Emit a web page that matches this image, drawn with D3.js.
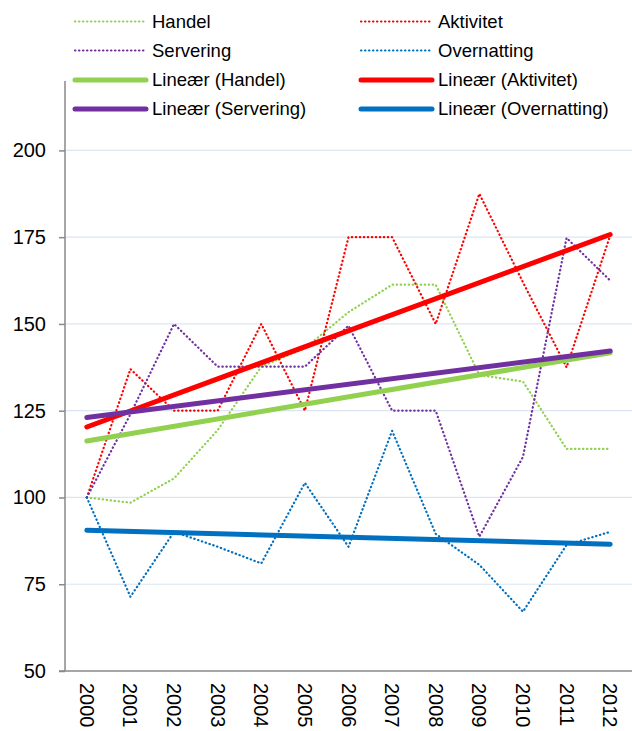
<!DOCTYPE html>
<html>
<head>
<meta charset="utf-8">
<script src="https://cdn.jsdelivr.net/npm/d3@7"></script>
<style>
  body { margin: 0; background: #fff; }
  svg { display: block; font-family: "Liberation Sans", Arial, sans-serif; }
</style>
</head>
<body>
<svg id="chart" width="632" height="731"></svg>
<script>
// Data
const years = ["2000", "2001", "2002", "2003", "2004", "2005", "2006",
               "2007", "2008", "2009", "2010", "2011", "2012"];
const handel     = [100, 98.5, 105.5, 119.4, 137.7, 143, 153.4, 161.3, 161.3, 135.3, 133.4, 114, 114];
const aktivitet  = [100, 137, 125, 125, 150, 125, 175, 175, 150, 187.5, 162, 137.5, 175.5];
const servering  = [100, 124, 150, 137.7, 137.7, 137.7, 149.5, 125, 125, 88.7, 111.7, 174.8, 162.5];
const overnatting = [100, 71.4, 90.1, 85.8, 81, 104.2, 85.8, 119.2, 89.5, 80.6, 67.1, 86.3, 90.1];
const yTicks = [50, 75, 100, 125, 150, 175, 200];

const series = [
  {name: "Handel", values: handel, color: "#92d050"},
  {name: "Aktivitet", values: aktivitet, color: "#ff0000"},
  {name: "Servering", values: servering, color: "#7030a0"},
  {name: "Overnatting", values: overnatting, color: "#0070c0"}
];

// least squares trend, like the spreadsheet's linear trendline
function trend(vals) {
  const n = vals.length;
  const mx = d3.mean(vals, (v, i) => i), my = d3.mean(vals);
  let sxy = 0, sxx = 0;
  vals.forEach((v, i) => { sxy += (i - mx) * (v - my); sxx += (i - mx) * (i - mx); });
  const b = sxy / sxx, a = my - b * mx;
  return [[0, a], [n - 1, a + b * (n - 1)]];
}

const svg = d3.select("#chart");
const margin = {top: 81, right: 0, bottom: 60, left: 65};
const width = +svg.attr("width"), height = +svg.attr("height");

const x = d3.scaleBand()
  .domain(years)
  .range([margin.left, width - margin.right]);

const y = d3.scaleLinear()
  .domain([50, 220])
  .range([height - margin.bottom, margin.top]);

const xPos = i => x(years[i]) + x.bandwidth() / 2;

// gridlines
svg.append("g")
  .selectAll("line")
  .data(yTicks.filter(t => t > 50))
  .join("line")
  .attr("x1", margin.left)
  .attr("x2", width - margin.right)
  .attr("y1", d => y(d))
  .attr("y2", d => y(d))
  .attr("stroke", "#dce6f2")
  .attr("stroke-width", 1.2);

// y axis
const yAxis = svg.append("g")
  .attr("transform", `translate(${margin.left},0)`)
  .call(d3.axisLeft(y).tickValues(yTicks).tickSize(6).tickPadding(13));
yAxis.select(".domain").attr("stroke", "#898989").attr("stroke-width", 1.5)
  .attr("d", `M0,${y(50)}V${margin.top}`);
yAxis.selectAll(".tick line").attr("stroke", "#898989").attr("stroke-width", 1.5);
yAxis.selectAll("text")
  .attr("font-family", "Liberation Sans, Arial, sans-serif")
  .attr("font-size", "20px")
  .attr("fill", "#000");

// x axis
const xAxis = svg.append("g")
  .attr("transform", `translate(0,${y(50)})`)
  .call(d3.axisBottom(x).tickSize(0).tickPadding(0));
xAxis.select(".domain").attr("stroke", "#898989").attr("stroke-width", 1.5)
  .attr("d", `M${margin.left - 6},0H${width}`);
xAxis.selectAll("text")
  .attr("font-family", "Liberation Sans, Arial, sans-serif")
  .attr("font-size", "20px")
  .attr("fill", "#000")
  .attr("transform", "translate(0,12)rotate(90)")
  .attr("dy", "0.35em")
  .attr("y", 0)
  .style("text-anchor", "start");

const line = d3.line()
  .x((d, i) => xPos(i))
  .y(d => y(d));

// dotted series
svg.append("g")
  .selectAll("path")
  .data(series)
  .join("path")
  .attr("d", d => line(d.values))
  .attr("fill", "none")
  .attr("stroke", d => d.color)
  .attr("stroke-width", 2.2)
  .attr("stroke-dasharray", "0.4,3.6")
  .attr("stroke-linecap", "round")
  .attr("stroke-linejoin", "round");

// trend lines
svg.append("g")
  .selectAll("path")
  .data(series)
  .join("path")
  .attr("d", d => d3.line().x(p => xPos(p[0])).y(p => y(p[1]))(trend(d.values)))
  .attr("fill", "none")
  .attr("stroke", d => d.color)
  .attr("stroke-width", 5)
  .attr("stroke-linecap", "round");

// legend
const legendItems = [
  {label: "Handel", color: "#92d050", dotted: true},
  {label: "Aktivitet", color: "#ff0000", dotted: true},
  {label: "Servering", color: "#7030a0", dotted: true},
  {label: "Overnatting", color: "#0070c0", dotted: true},
  {label: "Lineær (Handel)", color: "#92d050", dotted: false},
  {label: "Lineær (Aktivitet)", color: "#ff0000", dotted: false},
  {label: "Lineær (Servering)", color: "#7030a0", dotted: false},
  {label: "Lineær (Overnatting)", color: "#0070c0", dotted: false}
];
const colX = [75, 361];
const rowY = [21.5, 50.5, 80, 109];

const lg = svg.append("g")
  .selectAll("g")
  .data(legendItems)
  .join("g")
  .attr("transform", (d, i) => `translate(${colX[i % 2]},${rowY[Math.floor(i / 2)]})`);

lg.append("line")
  .attr("x1", 0).attr("x2", 71)
  .attr("stroke", d => d.color)
  .attr("stroke-width", d => d.dotted ? 2.2 : 5)
  .attr("stroke-dasharray", d => d.dotted ? "0.4,3.6" : null)
  .attr("stroke-linecap", "round");

lg.append("text")
  .attr("x", 77)
  .attr("dy", "0.35em")
  .attr("font-size", "18.5px")
  .attr("fill", "#000")
  .text(d => d.label);
</script>
</body>
</html>
